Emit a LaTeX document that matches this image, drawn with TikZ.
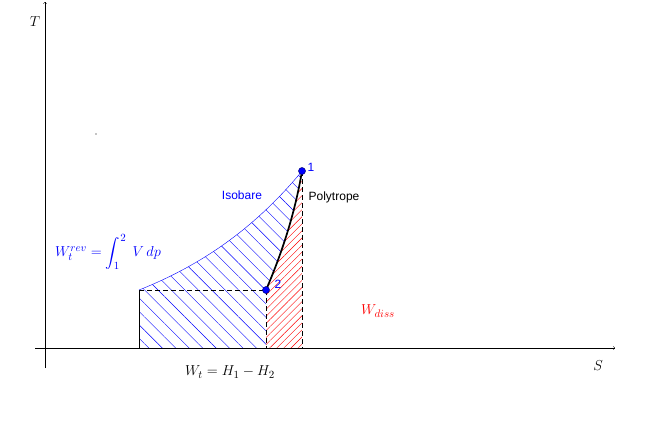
\documentclass[tikz,border=0pt]{standalone}
\usepackage{amsmath}
\usepackage{fontspec}
\setsansfont{Liberation Sans}
\usetikzlibrary{patterns.meta}
\begin{document}
\begin{tikzpicture}[x=1pt,y=-1pt,
  lbl/.style={font=\sffamily\fontsize{12}{14}\selectfont},
  mlbl/.style={font=\fontsize{15}{18}\selectfont},
  strich/.style={dash pattern=on 5pt off 3pt},
  pkt/.style={circle,fill=blue,draw=blue!45!black,line width=0.5pt,inner sep=0pt,minimum size=7pt}]
\useasboundingbox (0,0) rectangle (669,441);
% Achsen und Eckpunkte
\coordinate (xs) at (35,348); \coordinate (xe) at (615,348);
\coordinate (ys) at (45,368); \coordinate (ye) at (45,2);
\coordinate (A0) at (139,348); \coordinate (A) at (139,290);
\coordinate (B0) at (266,348); \coordinate (C0) at (302,348);
\coordinate (p1) at (302,171); \coordinate (p2) at (266,290);
% Flaechen
\fill[pattern={Lines[angle=-45,distance=9.5pt,line width=0.4pt]},pattern color=blue]
  (A0) -- (A) -- plot[domain=139:302,samples=40] (\x,{348-58*exp(1.115*(\x-139)/163)})
  -- (p1) .. controls (295,213) and (282,253) .. (p2) -- (B0) -- cycle;
\fill[pattern={Lines[angle=45,distance=5pt,line width=0.4pt]},pattern color=red]
  (p2) .. controls (282,253) and (295,213) .. (p1) -- (C0) -- (B0) -- cycle;
% Linien
\draw[->] (xs) -- (xe);
\draw[->] (ys) -- (ye);
\draw (A0) -- (A);
\draw[strich] (A) -- (p2);
\draw[strich] (p2) -- (B0);
\draw[strich] (p1) -- (C0);
\draw[blue] plot[domain=139:302,samples=40] (\x,{348-58*exp(1.115*(\x-139)/163)});
\draw[line width=1.7pt] (p2) .. controls (282,253) and (295,213) .. (p1);
\node[pkt] (P1) at (p1) {};
\node[pkt] (P2) at (p2) {};
\fill (96,134) circle (0.7);
% Beschriftungen
\node[lbl,blue] (l1) at (311,167) {1};
\node[lbl,blue] (l2) at (278,284) {2};
\node[lbl,blue] (iso) at (242,195) {Isobare};
\node[lbl] (poly) at (334,197) {Polytrope};
\node[mlbl,blue] (wrev) at (108,252) {$W_t^{rev}=\displaystyle\int_1^2\;V\,dp$};
\node[mlbl,red] (wdiss) at (378,311) {$W_{diss}$};
\node[mlbl] (wt) at (230,372) {$W_t=H_1-H_2$};
\node[font=\fontsize{14}{16}\selectfont] (T) at (35,22) {$T$};
\node[font=\fontsize{14}{16}\selectfont] (S) at (598,366) {$S$};
\end{tikzpicture}
\end{document}
